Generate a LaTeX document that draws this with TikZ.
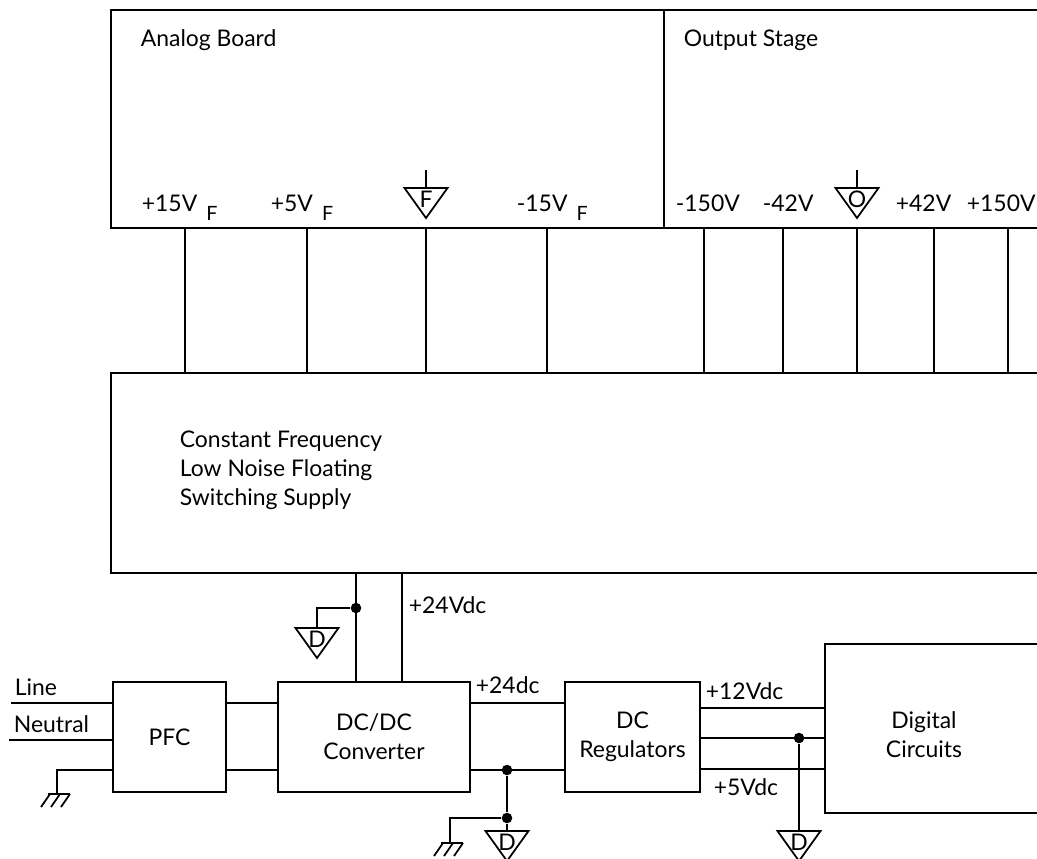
\documentclass[tikz,border=0pt]{standalone}
\usepackage{fontspec}
\setmainfont{Lato}
\newcommand{\railsub}[1]{\hspace{0.4em}\raisebox{-0.42em}{\fontsize{14}{15}\selectfont #1}}

\begin{document}
\begin{tikzpicture}[x=0.025cm, y=-0.025cm, line width=1.25pt,
    font=\fontsize{16.3}{20.5}\selectfont,
    box/.style={draw, minimum height=2.75cm, align=center, inner sep=0pt},
    txt/.style={anchor=base west, inner sep=0pt},
    junc/.style={circle, fill, inner sep=0pt, minimum size=7.5pt},
    pics/gtri/.style={code={
      \draw (-21.5,0) -- (21.5,0) -- (0,30) -- cycle;
      \node[inner sep=0pt] at (0,11.5) {#1};
    }},
    pics/earth/.style={code={
      \draw (-9,0) -- (13,0);
      \foreach \e in {-7,3,13} \draw (\e,0) -- ++(-9,13);
    }}]
  \useasboundingbox (0,0) rectangle (1037,858);

  % Analog board and output stage
  \draw (1060,10) -- (111,10) -- (111,228) -- (1060,228);
  \draw (664,10) -- (664,228);
  \node[txt] (analog) at (140,46) {Analog Board};
  \node[txt] (output) at (683,46) {Output Stage};

  % Rail labels
  \node[txt] (p15f) at (141,211) {+15V\railsub{F}};
  \node[txt] (p5f)  at (270,211) {+5V\railsub{F}};
  \node[txt] (m15f) at (516,211) {-15V\railsub{F}};
  \node[txt] (m150) at (675,211) {-150V};
  \node[txt] (m42)  at (762,211) {-42V};
  \node[txt] (p42)  at (895,211) {+42V};
  \node[txt] (p150) at (966,211) {+150V};

  % Floating and output grounds
  \coordinate (gf) at (426,170);
  \coordinate (gft) at (426,188);
  \draw (gf) -- (gft);
  \pic at (gft) {gtri=F};
  \coordinate (go) at (857,170);
  \coordinate (got) at (857,188);
  \draw (go) -- (got);
  \pic at (got) {gtri=O};

  % Rails down to the supply
  \foreach \x in {185,307,426,547,704,783,857,934,1008}
    \draw (\x,228) -- (\x,373);

  % Switching supply
  \draw (1060,373) -- (111,373) -- (111,573) -- (1060,573);
  \node[anchor=north west, inner sep=0pt, align=left] (supply) at (179,430)
    {Constant Frequency\\Low Noise Floating\\Switching Supply};

  % Lower chain
  \node[box, minimum width=2.825cm] (pfc)  at (169.5,737) {PFC};
  \node[box, minimum width=4.8cm]   (conv) at (374,737) {DC/DC\\Converter};
  \node[box, minimum width=3.375cm] (reg)  at (632.5,737) {DC\\Regulators};
  \draw (1060,644) -- (825,644) -- (825,813) -- (1060,813);
  \coordinate (digw) at (825,737);
  \node[align=center, inner sep=0pt] (digi) at (924,735) {Digital\\Circuits};

  % Mains input
  \coordinate (line) at (11,703);
  \coordinate (neutral) at (9,740);
  \coordinate (pe) at (57,770);
  \draw (line) -- (line -| pfc.west);
  \draw (neutral) -- (neutral -| pfc.west);
  \node[txt] at (14,695) {Line};
  \node[txt] at (13,732) {Neutral};
  \draw (pfc.west |- pe) -- (pe) -- ++(0,24) coordinate (pee);
  \pic at (pee) {earth};

  % PFC to converter
  \draw (pfc.east |- line) -- (conv.west |- line);
  \draw (pfc.east |- pe) -- (conv.west |- pe);

  % Converter to supply
  \coordinate (c1) at (356,573);
  \coordinate (c2) at (402,573);
  \draw (c1) -- (c1 |- conv.north);
  \draw (c2) -- (c2 |- conv.north);
  \node[junc] (j1) at (356,608) {};
  \coordinate (g1) at (317,628);
  \draw (j1) -| (g1);
  \pic at (g1) {gtri=D};
  \node[txt] at (408,613) {+24Vdc};

  % Converter to regulators
  \draw (conv.east |- line) -- (reg.west |- line);
  \node[txt] at (475,693) {+24dc};
  \draw (conv.east |- pe) -- (reg.west |- pe);
  \node[junc] (j2) at (507,770) {};
  \node[junc] (j3) at (507,818) {};
  \coordinate (g2) at (507,831);
  \coordinate (e2) at (450,843);
  \draw (j2) -- (j3) -- (g2);
  \draw (j3) -| (e2);
  \pic at (e2) {earth};
  \pic at (g2) {gtri=D};

  % Regulators to digital circuits
  \foreach \y in {708,738,769}
    \draw (reg.east |- 0,\y) -- (digw |- 0,\y);
  \node[junc] (j4) at (799,738) {};
  \coordinate (g3) at (799,831);
  \draw (j4) -- (g3);
  \pic at (g3) {gtri=D};
  \node[txt] at (705,699) {+12Vdc};
  \node[txt] at (713,795) {+5Vdc};
\end{tikzpicture}
\end{document}
